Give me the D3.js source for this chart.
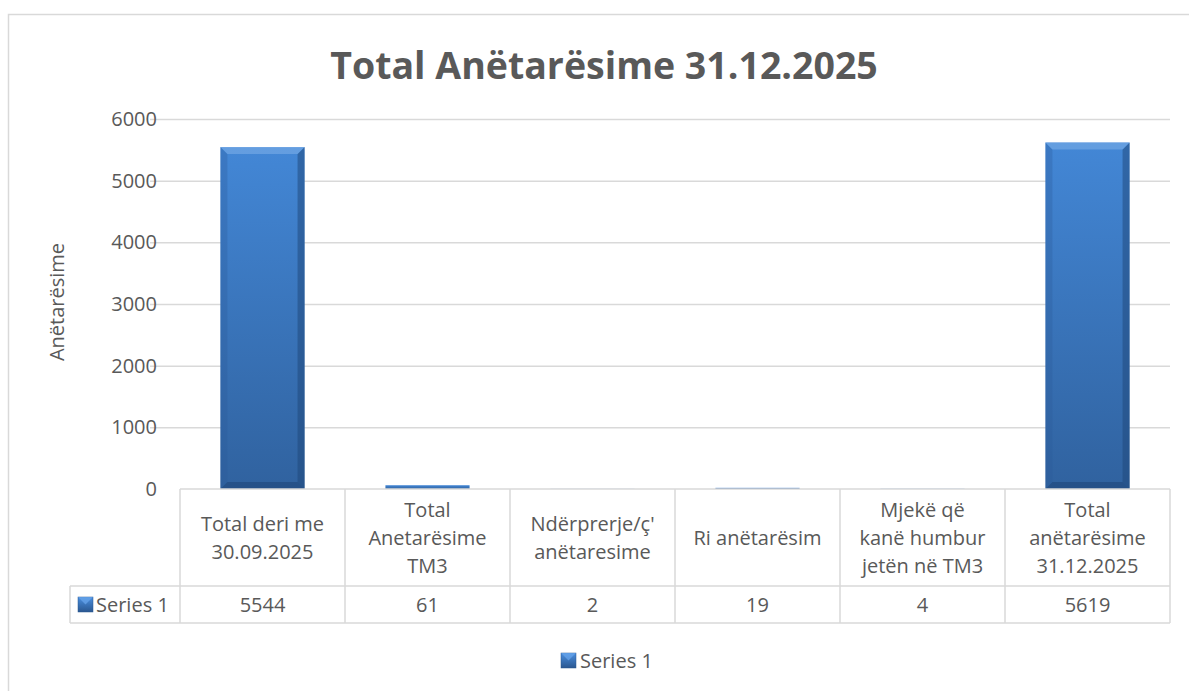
<!DOCTYPE html>
<html>
<head>
<meta charset="utf-8">
<script src="https://cdn.jsdelivr.net/npm/d3@7"></script>
<style>
  body { margin: 0; background: #fff; }
  text { font-family: "Open Sans", "Noto Sans", sans-serif; fill: #595959; }
</style>
</head>
<body>
<div id="chart"></div>
<script>
// data
var categories = [
  ["Total deri me", "30.09.2025"],
  ["Total", "Anetarësime", "TM3"],
  ["Ndërprerje/ç'", "anëtaresime"],
  ["Ri anëtarësim"],
  ["Mjekë që", "kanë humbur", "jetën në TM3"],
  ["Total", "anëtarësime", "31.12.2025"]
];
var seriesName = "Series 1";
var values = [5544, 61, 2, 19, 4, 5619];
var yTicks = [0, 1000, 2000, 3000, 4000, 5000, 6000];
var title = "Total Anëtarësime 31.12.2025";
var yLabel = "Anëtarësime";

var W = 1189, H = 691;
var plot = { left: 180, right: 1170, top: 119, bottom: 489 };
var fs = "20px";

var svg = d3.select("#chart").append("svg")
  .attr("width", W).attr("height", H);

// gradients for the bevelled bars
var defs = svg.append("defs");
var g1 = defs.append("linearGradient").attr("id", "barFill")
  .attr("x1", 0).attr("y1", 0).attr("x2", 0).attr("y2", 1);
g1.append("stop").attr("offset", "0%").attr("stop-color", "#4387d6");
g1.append("stop").attr("offset", "100%").attr("stop-color", "#30629f");
var g2 = defs.append("linearGradient").attr("id", "iconFill")
  .attr("x1", 0).attr("y1", 0).attr("x2", 0).attr("y2", 1);
g2.append("stop").attr("offset", "0%").attr("stop-color", "#4a8fe0");
g2.append("stop").attr("offset", "100%").attr("stop-color", "#2a5790");

// outer frame
svg.append("rect")
  .attr("x", 8.5).attr("y", 14.5).attr("width", W + 10).attr("height", H + 10)
  .attr("fill", "none").attr("stroke", "#d9d9d9").attr("stroke-width", 1.5);

// title
svg.append("text")
  .attr("x", 604).attr("y", 79)
  .attr("text-anchor", "middle")
  .style("font-size", "37.5px").style("font-weight", "bold")
  .text(title);

var x = d3.scaleBand()
  .domain(d3.range(categories.length))
  .range([plot.left, plot.right])
  .paddingInner(0.49).paddingOuter(0.245);

var y = d3.scaleLinear()
  .domain([0, 6000])
  .range([plot.bottom, plot.top]);

// gridlines
svg.append("g")
  .selectAll("line")
  .data(yTicks.filter(function (d) { return d > 0; }))
  .enter().append("line")
  .attr("x1", plot.left - 30).attr("x2", plot.right)
  .attr("y1", function (d) { return y(d) + 0.5; })
  .attr("y2", function (d) { return y(d) + 0.5; })
  .attr("stroke", "#d9d9d9").attr("stroke-width", 1.5);

// y axis labels
var yAxis = d3.axisLeft(y).tickValues(yTicks).tickFormat(d3.format("d")).tickSize(0).tickPadding(0);
var ya = svg.append("g")
  .attr("transform", "translate(157,0)")
  .call(yAxis);
ya.select(".domain").remove();
ya.selectAll("text")
  .style("font-size", fs).style("font-family", null)
  .attr("fill", null);

// y axis title
svg.append("text")
  .attr("transform", "translate(64,302) rotate(-90)")
  .attr("text-anchor", "middle")
  .style("font-size", fs)
  .text(yLabel);

// bars
var bev = 7;
var bars = svg.append("g").selectAll("g")
  .data(values)
  .enter().append("g");

bars.append("rect")
  .attr("x", function (d, i) { return x(i); })
  .attr("y", function (d) { return y(d); })
  .attr("width", x.bandwidth())
  .attr("height", function (d) { return plot.bottom - y(d); })
  .attr("fill", "url(#barFill)");

// bevel: left/right dark strips and top light strip
bars.each(function (d, i) {
    if (plot.bottom - y(d) <= 2 * bev) return;
    var g = d3.select(this);
    var x0 = x(i), x1 = x0 + x.bandwidth(), y0 = y(d), y1 = plot.bottom;
    g.append("path")
      .attr("d", "M" + x0 + "," + y0 + "L" + (x0 + bev) + "," + (y0 + bev) + "L" + (x0 + bev) + "," + (y1 - bev) + "L" + x0 + "," + y1 + "Z")
      .attr("fill", "#2a5a97").attr("opacity", 0.3);
    g.append("path")
      .attr("d", "M" + x1 + "," + y0 + "L" + (x1 - bev) + "," + (y0 + bev) + "L" + (x1 - bev) + "," + (y1 - bev) + "L" + x1 + "," + y1 + "Z")
      .attr("fill", "#1e4678").attr("opacity", 0.5);
    g.append("path")
      .attr("d", "M" + x0 + "," + y0 + "L" + x1 + "," + y0 + "L" + (x1 - bev) + "," + (y0 + bev) + "L" + (x0 + bev) + "," + (y0 + bev) + "Z")
      .attr("fill", "#7fb0ea").attr("opacity", 0.55);
    g.append("path")
      .attr("d", "M" + x0 + "," + y1 + "L" + x1 + "," + y1 + "L" + (x1 - bev) + "," + (y1 - bev) + "L" + (x0 + bev) + "," + (y1 - bev) + "Z")
      .attr("fill", "#1a3e6c").attr("opacity", 0.45);
  });

// data table
var colW = (plot.right - plot.left) / categories.length;
var rowTop = plot.bottom, rowMid = 586, rowBot = 623, labelLeft = 70;
var grid = svg.append("g").attr("stroke", "#d9d9d9").attr("stroke-width", 1.5).attr("fill", "none");
grid.append("line").attr("x1", plot.left).attr("x2", plot.right).attr("y1", rowTop).attr("y2", rowTop);
grid.append("line").attr("x1", labelLeft).attr("x2", plot.right).attr("y1", rowMid).attr("y2", rowMid);
grid.append("line").attr("x1", labelLeft).attr("x2", plot.right).attr("y1", rowBot).attr("y2", rowBot);
grid.append("line").attr("x1", labelLeft).attr("x2", labelLeft).attr("y1", rowMid).attr("y2", rowBot);
d3.range(categories.length + 1).forEach(function (i) {
  grid.append("line")
    .attr("x1", plot.left + i * colW).attr("x2", plot.left + i * colW)
    .attr("y1", rowTop).attr("y2", rowBot);
});

// category labels
var lineH = 28;
svg.append("g").selectAll("text")
  .data(categories)
  .enter().append("text")
  .attr("text-anchor", "middle")
  .style("font-size", fs)
  .each(function (lines, i) {
    var cy = (rowTop + rowMid) / 2 + 7 - (lines.length - 1) * lineH / 2;
    var t = d3.select(this);
    lines.forEach(function (s, k) {
      t.append("tspan")
        .attr("x", plot.left + (i + 0.5) * colW)
        .attr("y", cy + k * lineH)
        .text(s);
    });
  });

// values row
svg.append("g").selectAll("text")
  .data(values)
  .enter().append("text")
  .attr("x", function (d, i) { return plot.left + (i + 0.5) * colW; })
  .attr("y", (rowMid + rowBot) / 2 + 7)
  .attr("text-anchor", "middle")
  .style("font-size", fs)
  .text(function (d) { return d; });

// series key in table
function legendIcon(gx, gy) {
  svg.append("rect").attr("x", gx).attr("y", gy).attr("width", 15).attr("height", 15)
    .attr("fill", "url(#iconFill)").attr("stroke", "#2a5790").attr("stroke-width", 0.5);
  svg.append("path")
    .attr("d", "M" + gx + "," + gy + "L" + (gx + 15) + "," + gy + "L" + (gx + 7.5) + "," + (gy + 7.5) + "Z")
    .attr("fill", "#6aa6ec").attr("opacity", 0.7);
}
legendIcon(78, 597);
svg.append("text")
  .attr("x", 96).attr("y", (rowMid + rowBot) / 2 + 7)
  .style("font-size", fs)
  .text(seriesName);

// bottom legend
legendIcon(561, 653);
svg.append("text")
  .attr("x", 580).attr("y", 668)
  .style("font-size", fs)
  .text(seriesName);
</script>
</body>
</html>
